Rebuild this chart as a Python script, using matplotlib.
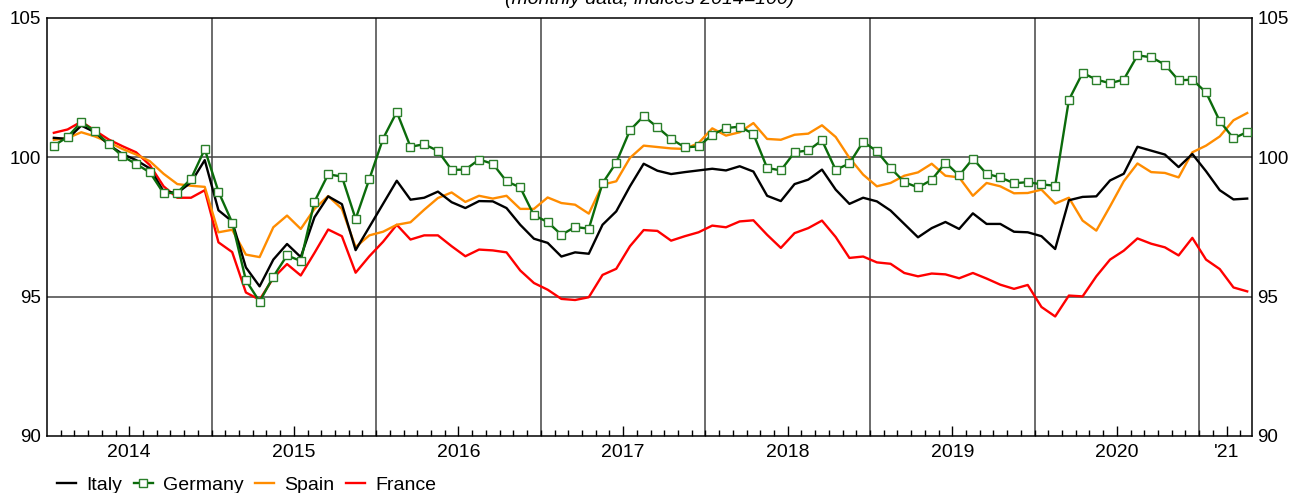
import numpy as np
import matplotlib
matplotlib.use("Agg")
import matplotlib.pyplot as plt
from matplotlib.ticker import FixedLocator

plt.rcParams['font.family'] = ['Liberation Sans', 'DejaVu Sans']

# monthly indices, Jan 2014 - Apr 2021 (2014=100)
italy = [100.70, 100.66, 101.14, 100.90, 100.45, 100.12, 99.90, 99.60, 98.78, 98.72, 99.10, 99.90,
         98.10, 97.70, 96.05, 95.37, 96.33, 96.89, 96.42, 97.85, 98.60, 98.32, 96.67, 97.50,
         98.33, 99.16, 98.48, 98.55, 98.77, 98.39, 98.18, 98.43, 98.42, 98.18, 97.58, 97.08,
         96.93, 96.44, 96.59, 96.54, 97.58, 98.06, 98.96, 99.77, 99.52, 99.40, 99.47, 99.53,
         99.59, 99.53, 99.68, 99.49, 98.62, 98.43, 99.04, 99.20, 99.56, 98.84, 98.33, 98.55,
         98.42, 98.09, 97.61, 97.13, 97.46, 97.68, 97.43, 97.99, 97.61, 97.61, 97.33, 97.31,
         97.17, 96.71, 98.46, 98.58, 98.60, 99.17, 99.41, 100.38, 100.24, 100.10, 99.65, 100.12,
         99.50, 98.82, 98.49, 98.52]
germany = [100.42, 100.73, 101.27, 100.93, 100.48, 100.04, 99.76, 99.46, 98.71, 98.73, 99.23, 100.29,
           98.77, 97.66, 95.59, 94.82, 95.72, 96.48, 96.28, 98.41, 99.39, 99.31, 97.79, 99.22,
           100.67, 101.63, 100.38, 100.47, 100.23, 99.55, 99.56, 99.92, 99.77, 99.14, 98.92, 97.92,
           97.68, 97.22, 97.50, 97.44, 99.07, 99.81, 100.97, 101.48, 101.08, 100.66, 100.36, 100.39,
           100.81, 101.05, 101.10, 100.84, 99.62, 99.53, 100.18, 100.25, 100.61, 99.55, 99.78, 100.56,
           100.22, 99.62, 99.11, 98.92, 99.19, 99.81, 99.35, 99.95, 99.41, 99.28, 99.07, 99.11,
           99.03, 98.98, 102.06, 103.03, 102.79, 102.66, 102.79, 103.66, 103.59, 103.33, 102.76, 102.79,
           102.33, 101.30, 100.68, 100.91]
spain = [100.63, 100.69, 100.90, 100.75, 100.54, 100.30, 100.10, 99.86, 99.41, 99.04, 98.98, 98.94,
         97.31, 97.40, 96.51, 96.42, 97.49, 97.91, 97.43, 98.15, 98.61, 98.15, 96.78, 97.20,
         97.33, 97.58, 97.67, 98.12, 98.54, 98.74, 98.40, 98.62, 98.52, 98.62, 98.15, 98.15,
         98.56, 98.36, 98.30, 97.98, 99.02, 99.14, 99.98, 100.42, 100.37, 100.32, 100.30, 100.51,
         101.04, 100.78, 100.90, 101.23, 100.66, 100.63, 100.81, 100.85, 101.15, 100.73, 99.98, 99.38,
         98.96, 99.08, 99.34, 99.46, 99.77, 99.34, 99.28, 98.62, 99.08, 98.96, 98.71, 98.72,
         98.84, 98.34, 98.55, 97.73, 97.37, 98.24, 99.14, 99.78, 99.47, 99.44, 99.28, 100.18,
         100.42, 100.75, 101.33, 101.59]
france = [100.88, 101.00, 101.28, 100.96, 100.64, 100.40, 100.18, 99.72, 98.96, 98.55, 98.55, 98.82,
          96.95, 96.60, 95.15, 94.89, 95.67, 96.17, 95.76, 96.57, 97.41, 97.17, 95.86, 96.45,
          96.97, 97.58, 97.05, 97.20, 97.20, 96.81, 96.45, 96.69, 96.66, 96.59, 95.94, 95.49,
          95.25, 94.92, 94.88, 94.98, 95.78, 96.00, 96.81, 97.39, 97.36, 97.01, 97.17, 97.31,
          97.55, 97.49, 97.70, 97.74, 97.22, 96.75, 97.28, 97.46, 97.73, 97.14, 96.39, 96.44,
          96.23, 96.18, 95.85, 95.73, 95.83, 95.80, 95.66, 95.85, 95.65, 95.43, 95.28, 95.42,
          94.63, 94.29, 95.04, 95.01, 95.73, 96.33, 96.65, 97.09, 96.90, 96.77, 96.48, 97.11,
          96.33, 95.99, 95.33, 95.19]

year_labels = ['2014', '2015', '2016', '2017', '2018', '2019', '2020', "'21"]
yticks = [90, 95, 100, 105]

n = len(italy)
x = np.arange(n) + 0.5

fig = plt.figure(figsize=(12.91, 4.93), dpi=100)
ax = fig.add_axes([47 / 1291, 1 - 436 / 493, (1252 - 47) / 1291, (436 - 18) / 493])

ax.plot(x, italy, color='black', lw=1.7, label='Italy', zorder=5)
ax.plot(x, germany, color='#0b6b0b', lw=1.7, marker='s', ms=6, mfc='white',
        mec='#2a7f2a', mew=1.0, label='Germany', zorder=6)
ax.plot(x, spain, color='#ff8c00', lw=1.7, label='Spain', zorder=4)
ax.plot(x, france, color='#ff0000', lw=1.7, label='France', zorder=3)

ax.set_xlim(0, 87.85)
ax.set_ylim(90, 105)

# year separators and horizontal grid
for yb in range(12, n, 12):
    ax.axvline(yb, color='#444444', lw=1.1, zorder=1)
for yv in [95, 100]:
    ax.axhline(yv, color='#444444', lw=1.1, zorder=1)

major = [6, 18, 30, 42, 54, 66, 78, 86]
ax.xaxis.set_major_locator(FixedLocator(major))
ax.set_xticklabels(year_labels)
ax.xaxis.set_minor_locator(FixedLocator(list(range(1, n))))
ax.tick_params(axis='x', which='major', direction='in', length=7, width=1,
               labelsize=14, pad=6, top=False)
ax.tick_params(axis='x', which='minor', direction='in', length=4, width=1, top=False)

ax.set_yticks(yticks)
ax.tick_params(axis='y', length=0, labelsize=13.5, pad=4.5)
for s in ax.spines.values():
    s.set_linewidth(1.1)

ax2 = ax.twinx()
ax2.set_ylim(90, 105)
ax2.set_yticks(yticks)
ax2.tick_params(axis='y', length=0, labelsize=13.5, pad=4)
for s in ax2.spines.values():
    s.set_visible(False)

fig.text(0.503, 1 - 4 / 493, '(monthly data; indices 2014=100)', ha='center',
         va='baseline', fontsize=14, style='italic')

h, l = ax.get_legend_handles_labels()
fig.legend(h, l, loc='lower left', bbox_to_anchor=(0.035, -0.025), ncol=4,
           frameon=False, fontsize=14, handlelength=1.0, handletextpad=0.5,
           columnspacing=0.6, borderaxespad=0.2)

fig.savefig('out.png', dpi=100)
